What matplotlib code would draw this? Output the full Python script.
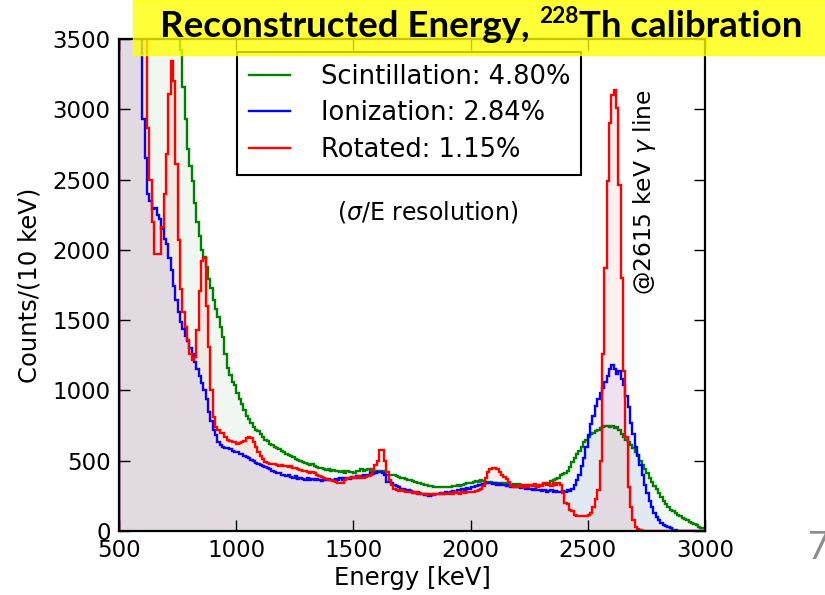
import numpy as np
import matplotlib
matplotlib.use("Agg")
import matplotlib.pyplot as plt
from matplotlib.patches import Rectangle

# 10 keV bins from 500 to 3000 keV
edges = np.arange(500, 3001, 10)

# counts per 10 keV, one row = 100 keV (values above 3500 are off scale)
scint = [
    9500, 9300, 9100, 8900, 8700, 8500, 8200, 7900, 7600, 7300,   # 500
    7000, 6700, 6400, 6100, 5800, 5500, 5300, 5100, 4900, 4700,   # 600
    4500, 4350, 4200, 4050, 3900, 3650, 3420, 3160, 2930, 2720,   # 700
    2600, 2490, 2330, 2200, 2100, 2000, 1950, 1880, 1790, 1730,   # 800
    1640, 1580, 1520, 1450, 1380, 1260, 1160, 1110, 1060, 1040,   # 900
    980, 940, 900, 860, 820, 800, 770, 740, 720, 710,             # 1000
    690, 670, 650, 640, 620, 610, 600, 590, 580, 570,             # 1100
    560, 550, 540, 530, 525, 510, 505, 500, 490, 485,             # 1200
    480, 470, 475, 460, 455, 450, 445, 440, 435, 440,             # 1300
    430, 435, 425, 430, 420, 430, 415, 425, 420, 420,             # 1400
    415, 425, 430, 440, 430, 435, 440, 430, 420, 425,             # 1500
    420, 430, 425, 410, 400, 400, 395, 400, 390, 385,             # 1600
    380, 375, 370, 365, 360, 355, 350, 345, 340, 335,             # 1700
    330, 325, 320, 318, 315, 312, 310, 312, 310, 315,             # 1800
    310, 315, 320, 318, 325, 320, 330, 335, 340, 345,             # 1900
    340, 350, 355, 350, 360, 355, 350, 345, 350, 345,             # 2000
    340, 345, 340, 335, 340, 335, 340, 330, 335, 330,             # 2100
    335, 330, 325, 330, 325, 330, 325, 330, 320, 325,             # 2200
    330, 335, 340, 345, 355, 360, 370, 380, 395, 405,             # 2300
    415, 430, 455, 490, 520, 550, 570, 600, 630, 650,             # 2400
    670, 690, 700, 710, 720, 735, 740, 745, 750, 740,             # 2500
    745, 735, 740, 720, 690, 670, 650, 630, 610, 590,             # 2600
    560, 530, 500, 470, 440, 410, 380, 350, 320, 300,             # 2700
    270, 240, 215, 190, 170, 150, 140, 125, 115, 105,             # 2800
    95, 85, 75, 65, 55, 48, 40, 32, 24, 18,                       # 2900
]

ioniz = [
    9000, 8700, 8400, 8000, 7600, 7000, 6300, 5500, 4600, 3700,   # 500
    2930, 2650, 2400, 2350, 2290, 2300, 2250, 2220, 2150, 2080,   # 600
    2040, 1940, 1860, 1740, 1640, 1560, 1490, 1440, 1390, 1350,   # 700
    1300, 1260, 1200, 1150, 1100, 1050, 1000, 940, 850, 780,      # 800
    720, 680, 630, 610, 600, 590, 590, 580, 570, 565,             # 900
    560, 550, 545, 535, 525, 520, 505, 495, 485, 480,             # 1000
    470, 460, 455, 445, 440, 430, 420, 415, 410, 400,             # 1100
    400, 390, 395, 385, 380, 390, 370, 380, 370, 360,             # 1200
    375, 365, 370, 360, 370, 365, 355, 365, 360, 370,             # 1300
    360, 365, 370, 360, 380, 365, 375, 380, 370, 385,             # 1400
    380, 390, 380, 390, 395, 390, 400, 410, 405, 415,             # 1500
    420, 420, 415, 400, 350, 350, 340, 330, 320, 315,             # 1600
    300, 300, 290, 295, 285, 280, 270, 275, 260, 265,             # 1700
    255, 260, 250, 255, 260, 265, 260, 270, 265, 275,             # 1800
    270, 280, 285, 280, 290, 295, 300, 295, 305, 300,             # 1900
    310, 315, 320, 325, 330, 335, 340, 345, 340, 335,             # 2000
    340, 330, 335, 325, 330, 320, 325, 315, 320, 310,             # 2100
    315, 305, 310, 300, 305, 300, 295, 300, 290, 295,             # 2200
    285, 290, 280, 285, 290, 280, 285, 275, 280, 285,             # 2300
    280, 290, 285, 300, 330, 360, 400, 460, 520, 600,             # 2400
    680, 760, 820, 890, 940, 980, 1020, 1060, 1100, 1150,         # 2500
    1180, 1150, 1120, 1140, 1080, 1040, 960, 880, 770, 690,       # 2600
    600, 540, 470, 400, 330, 270, 210, 170, 130, 100,             # 2700
    80, 60, 45, 35, 25, 18, 10, 6, 3, 2,                          # 2800
    1, 1, 0, 0, 0, 0, 0, 0, 0, 0,                                 # 2900
]

rotated = [
    9800, 9600, 9400, 9200, 9000, 8600, 8200, 7600, 6800, 5800,   # 500
    4600, 3800, 2870, 2500, 2200, 1970, 1970, 1970, 2160, 2400,   # 600
    2680, 3110, 3340, 3200, 2610, 2070, 1720, 1560, 1450, 1360,   # 700
    1260, 1220, 1240, 1430, 1710, 1920, 1940, 1600, 1310, 1000,   # 800
    810, 740, 720, 700, 695, 670, 650, 640, 630, 630,             # 900
    620, 625, 630, 640, 660, 670, 665, 630, 600, 560,             # 1000
    530, 510, 490, 485, 480, 475, 480, 470, 465, 470,             # 1100
    460, 465, 455, 460, 450, 445, 440, 435, 430, 425,             # 1200
    420, 415, 420, 410, 400, 390, 385, 380, 370, 365,             # 1300
    360, 355, 350, 345, 340, 345, 365, 375, 380, 385,             # 1400
    380, 385, 390, 380, 375, 385, 390, 400, 440, 470,             # 1500
    500, 575, 575, 500, 420, 360, 330, 300, 290, 285,             # 1600
    290, 285, 280, 275, 280, 270, 275, 265, 270, 260,             # 1700
    265, 255, 260, 265, 255, 260, 265, 260, 270, 265,             # 1800
    260, 270, 265, 275, 270, 265, 275, 270, 280, 275,             # 1900
    275, 280, 285, 290, 300, 320, 380, 420, 440, 445,             # 2000
    445, 440, 420, 400, 385, 370, 350, 320, 310, 320,             # 2100
    310, 330, 315, 325, 310, 330, 320, 335, 315, 330,             # 2200
    320, 340, 325, 335, 320, 340, 330, 345, 330, 270,             # 2300
    200, 190, 150, 140, 115, 110, 110, 105, 110, 110,             # 2400
    115, 130, 170, 230, 290, 500, 1260, 1870, 2490, 2900,         # 2500
    3100, 3140, 3010, 2460, 1800, 1140, 670, 310, 170, 80,        # 2600
    30, 12, 5, 2, 0, 0, 0, 0, 0, 0,                               # 2700
    0, 0, 0, 0, 0, 0, 0, 0, 0, 0,                                 # 2800
    0, 0, 0, 0, 0, 0, 0, 0, 0, 0,                                 # 2900
]

series = [
    (scint, "#008000", "Scintillation: 4.80%"),
    (ioniz, "#0000ff", "Ionization: 2.84%"),
    (rotated, "#ff0000", "Rotated: 1.15%"),
]

W, H = 825, 595
fig = plt.figure(figsize=(W / 100, H / 100), dpi=100)
ax = fig.add_axes([119 / W, 1 - 531 / H, 586 / W, 492 / H])

for vals, col, lab in series:
    ax.stairs(vals, edges, fill=True, color=col, alpha=0.06, lw=0)
    ax.stairs(vals, edges, color=col, lw=1.7, label=lab)

ax.set_xlim(500, 3000)
ax.set_ylim(0, 3500)
ax.set_xticks(np.arange(500, 3001, 500))
ax.set_yticks(np.arange(0, 3501, 500))
ax.tick_params(direction="in", top=True, right=True, length=8, width=1,
               labelsize=16.5, pad=6)
for sp in ax.spines.values():
    sp.set_linewidth(1.6)

ax.set_xlabel("Energy [keV]", fontsize=17.5, labelpad=3)
ax.set_ylabel("Counts/(10 keV)", fontsize=17.5, labelpad=8)

leg = ax.legend(loc="upper left", bbox_to_anchor=(237 / W, 1 - 52 / H),
                bbox_transform=fig.transFigure, fontsize=18.5, fancybox=False,
                edgecolor="black", framealpha=1, borderaxespad=0,
                handlelength=1.6, handletextpad=1.2, labelspacing=0.42,
                borderpad=0.45)
leg.get_frame().set_linewidth(1.5)

fig.text(428 / W, 1 - 212 / H, r"($\sigma$/E resolution)", ha="center",
         va="center", fontsize=17)
fig.text(645 / W, 1 - 192 / H, r"@2615 keV $\gamma$ line", rotation=90,
         ha="center", va="center", fontsize=16.8)

# yellow slide title banner on top of the plot
fig.patches.append(Rectangle((133 / W, 1 - 55 / H), 1, 55 / H,
                             transform=fig.transFigure, color="#ffff00",
                             alpha=0.78, zorder=2))

fig.canvas.draw()
rend = fig.canvas.get_renderer()
tfont = dict(family="Lato", weight="bold", color="black", va="baseline",
             zorder=5)
base_y = 1 - 37 / H


def place_title(fs, x0):
    t1 = fig.text(x0, base_y, "Reconstructed Energy,", fontsize=fs, **tfont)
    w1 = t1.get_window_extent(rend).width
    gap = 0.25 * fs * 100 / 72
    t2 = fig.text(x0 + (w1 + gap) / W, base_y + 0.38 * fs * 100 / 72 / H,
                  "228", fontsize=0.62 * fs, **tfont)
    w2 = t2.get_window_extent(rend).width
    t3 = fig.text(x0 + (w1 + gap + w2 + 1) / W, base_y, "Th calibration",
                  fontsize=fs, **tfont)
    w3 = t3.get_window_extent(rend).width
    return [t1, t2, t3], w1 + gap + w2 + 1 + w3


parts, total = place_title(26, 160 / W)
for p in parts:
    p.remove()
fs = 26 * 642 / total
place_title(fs, 160 / W)

fig.text(808 / W, 1 - 548 / H, "7", color="#8c8c8c", fontsize=27,
         family="Lato", ha="left", va="center")

fig.savefig("out.png", dpi=100)
